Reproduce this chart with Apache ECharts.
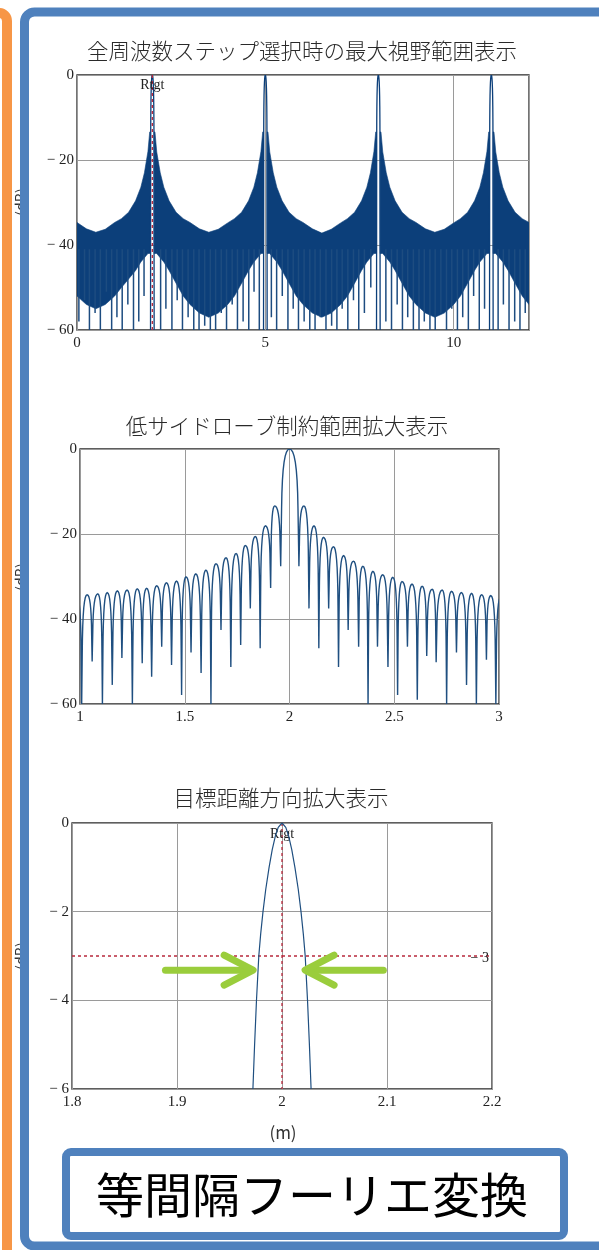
<!DOCTYPE html>
<html>
<head>
<meta charset="utf-8">
<script src="https://cdn.jsdelivr.net/npm/echarts@6/dist/echarts.min.js"></script>
<style>
  html, body { margin: 0; padding: 0; background: #ffffff; }
  #chart { width: 599px; height: 1250px; }
</style>
</head>
<body>
<div id="chart"></div>
<script>
// ---------- full range view (0-12 m) ----------
const fullMainLobeX = [2, 5, 8, 11];          // main-lobe (target / alias) positions, m
const fullMainLobeHalfWidth = 0.048;          // distance from main-lobe peak to its first null, m
const fullMainLobeNullDb = -60;
// upper edge (sidelobe peaks) and lower edge of the dense sidelobe region
const fullEnvX = [
  0, 0.25, 0.5, 0.75, 1.0, 1.18, 1.37, 1.555, 1.695, 1.79, 1.883, 1.93, 1.952,
  2.048, 2.07, 2.117, 2.21, 2.305, 2.445, 2.63, 2.82, 3.0, 3.25, 3.5, 3.75, 4.0, 4.18, 4.37, 4.555, 4.695, 4.79, 4.883, 4.93, 4.952,
  5.048, 5.07, 5.117, 5.21, 5.305, 5.445, 5.63, 5.82, 6.0, 6.25, 6.5, 6.75, 7.0, 7.18, 7.37, 7.555, 7.695, 7.79, 7.883, 7.93, 7.952,
  8.048, 8.07, 8.117, 8.21, 8.305, 8.445, 8.63, 8.82, 9.0, 9.25, 9.5, 9.75, 10.0, 10.18, 10.37, 10.555, 10.695, 10.79, 10.883, 10.93, 10.952,
  11.048, 11.07, 11.117, 11.21, 11.305, 11.445, 11.63, 11.82, 12.0
];
const fullEnvTop = [
  -34.7, -36.2, -37.0, -36.3, -34.7, -33.8, -32.3, -29.6, -26.4, -23.0, -18.0, -13.4, -13.4,
  -13.4, -13.4, -18.1, -23.0, -26.4, -29.6, -32.3, -33.8, -34.7, -36.2, -37.0, -36.3, -34.8, -33.8, -32.3, -29.6, -26.4, -23.0, -18.0, -13.4, -13.4,
  -13.4, -13.4, -18.1, -23.0, -26.4, -29.6, -32.3, -33.8, -34.7, -36.2, -37.2, -36.3, -34.8, -33.8, -32.3, -29.6, -26.4, -23.0, -18.0, -13.4, -13.4,
  -13.4, -13.4, -18.1, -23.0, -26.4, -29.6, -32.3, -33.8, -34.7, -36.2, -37.0, -36.3, -34.8, -33.8, -32.3, -29.6, -26.4, -23.0, -18.0, -13.4, -13.4,
  -13.4, -13.4, -18.1, -23.0, -26.4, -29.6, -32.3, -33.8, -34.7
];
const fullEnvFloor = [
  -52, -54, -55, -54, -52, -50, -48, -46, -44, -43, -42, -42, -42,
  -42, -42, -42, -43, -44, -46, -49, -52, -54, -56, -57, -56, -54, -52, -49, -46, -44, -43, -42, -42, -42,
  -42, -42, -42, -43, -44, -46, -49, -52, -54, -56, -57, -56, -54, -52, -49, -46, -44, -43, -42, -42, -42,
  -42, -42, -42, -43, -44, -46, -49, -52, -54, -56, -57, -56, -54, -52, -49, -46, -44, -43, -42, -42, -42,
  -42, -42, -42, -43, -44, -46, -49, -52, -54
];
// deep nulls reaching below the dense region
const fullNullX = [
  0.05, 0.2, 0.33, 0.48, 0.62, 0.78, 0.92, 1.06, 1.2, 1.35, 1.5, 1.64, 1.78,
  2.22, 2.36, 2.52, 2.66, 2.8, 2.95, 3.1, 3.24, 3.39, 3.54, 3.68, 3.83, 3.97, 4.12, 4.26, 4.41, 4.56, 4.7, 4.84,
  5.16, 5.3, 5.45, 5.6, 5.74, 5.88, 6.03, 6.18, 6.32, 6.46, 6.61, 6.76, 6.9, 7.04, 7.19, 7.34, 7.48, 7.63, 7.8,
  8.2, 8.35, 8.5, 8.64, 8.78, 8.93, 9.08, 9.22, 9.37, 9.51, 9.66, 9.81, 9.95, 10.1, 10.24, 10.39, 10.53, 10.68, 10.82,
  11.18, 11.32, 11.47, 11.62, 11.76, 11.9
];
const fullNullDb = [
  -58, -53, -60, -56, -60, -51, -60, -57, -60, -54, -60, -58, -52,
  -60, -55, -60, -53, -60, -57, -60, -60, -59, -60, -60, -56, -60, -54, -60, -58, -60, -51, -60,
  -57, -60, -52, -60, -55, -60, -58, -60, -60, -57, -60, -59, -60, -55, -60, -53, -60, -56, -50,
  -58, -60, -54, -60, -57, -60, -60, -58, -60, -60, -56, -60, -55, -60, -57, -60, -52, -60, -55,
  -60, -54, -60, -58, -60, -56
];

// ---------- low-sidelobe region (1-3 m) ----------
const zoomNullX = [
  0.962, 1.008, 1.058, 1.107, 1.154, 1.200, 1.250, 1.297, 1.342, 1.390, 1.437, 1.485, 1.530, 1.578, 1.625,
  1.673, 1.720, 1.767, 1.813, 1.860, 1.910, 1.958, 2.045, 2.093, 2.140, 2.187, 2.234, 2.280, 2.330, 2.375,
  2.420, 2.470, 2.516, 2.563, 2.610, 2.655, 2.700, 2.750, 2.797, 2.845, 2.892, 2.940, 2.985, 3.033
];
const zoomNullDb = [
  -48, -60, -50, -60, -55.5, -49.2, -60, -50.4, -53.6, -46.5, -50.8, -57.9, -47.9, -52.7, -60,
  -42.6, -51.3, -46.1, -37.5, -46.9, -32.7, -27.6, -27.6, -37.5, -46.9, -37.5, -51.3, -42.6, -46.5, -60,
  -46.5, -51.3, -57.9, -46.5, -59, -48.7, -50.2, -60, -47.9, -55.5, -60, -49.6, -60, -50
];
const zoomLobeX = [
  0.985, 1.034, 1.085, 1.130, 1.178, 1.225, 1.273, 1.318, 1.366, 1.413, 1.461, 1.506, 1.553, 1.601, 1.649,
  1.697, 1.745, 1.789, 1.837, 1.885, 1.929, 2.000, 2.069, 2.117, 2.162, 2.210, 2.258, 2.305, 2.350, 2.398,
  2.445, 2.493, 2.537, 2.585, 2.633, 2.681, 2.729, 2.773, 2.821, 2.869, 2.917, 2.961, 3.009
];
const zoomLobeDb = [
  -34.8, -34.3, -34.1, -33.8, -33.4, -33.2, -32.9, -32.8, -32.2, -31.5, -31.1, -30.1, -29.4, -28.5, -27.0,
  -25.6, -24.6, -22.7, -20.6, -18.1, -13.4, 0, -13.4, -18.1, -20.8, -23.0, -25.1, -26.4, -27.6, -28.8,
  -29.6, -30.2, -31.2, -31.8, -32.3, -33.0, -33.2, -33.5, -33.8, -34.0, -34.3, -34.5, -34.8
];

// ---------- range direction close-up (1.8-2.2 m) ----------
const targetX  = [1.9723, 1.9739, 1.9757, 1.9779, 1.9797, 1.9819, 1.9845, 1.9877, 1.9907, 1.9936, 1.9964, 2.0,
                  2.0036, 2.0064, 2.0093, 2.0123, 2.0155, 2.0181, 2.0203, 2.0221, 2.0243, 2.0261, 2.0277];
const targetDb = [-6, -5, -4, -3, -2.5, -2, -1.5, -1, -0.6, -0.3, -0.1, 0,
                  -0.1, -0.3, -0.6, -1, -1.5, -2, -2.5, -3, -4, -5, -6];
const targetRange = 2;        // Rtgt, m
const halfPowerDb = -3;
const arrowTailX = [1.889, 2.0965];
const arrowTipX  = [1.9725, 2.022];
const arrowDb = -3.32;

// ---------- text ----------
const titles = ['全周波数ステップ選択時の最大視野範囲表示', '低サイドローブ制約範囲拡大表示', '目標距離方向拡大表示'];
const unitX = '(m)';
const unitY = '(dB)';
const caption = '等間隔フーリエ変換';
const targetLabel = 'Rtgt';

// ---------- styles ----------
const SERIF = '"Liberation Serif", "Times New Roman", serif';
const JP = '"Noto Sans CJK JP", sans-serif';
const NAVY = '#0c3f7a';
const TRACE = '#1f4f80';
const MARK = '#b8283c';
const BLUE = '#4f81bd';
const ORANGE = '#f79646';
const GREEN = '#9acd3c';

function bezierPts(p0, p1, p2, p3, n, out) {
  for (let k = 1; k <= n; k++) {
    const t = k / n, u = 1 - t;
    out.push([
      u * u * u * p0[0] + 3 * u * u * t * p1[0] + 3 * u * t * t * p2[0] + t * t * t * p3[0],
      u * u * u * p0[1] + 3 * u * u * t * p1[1] + 3 * u * t * t * p2[1] + t * t * t * p3[1]
    ]);
  }
}
// one flank of a lobe: from the null pixel N up to the peak pixel P
function lobeSide(N, P, dbPx) {
  const dx = P[0] - N[0];
  const drop = Math.min(14 * dbPx, 0.6 * (N[1] - P[1]));
  const S = [N[0] + 0.1 * dx, P[1] + drop];
  const pts = [S];
  bezierPts(S, [N[0] + 0.16 * dx, P[1] + drop * 0.25], [N[0] + 0.5 * dx, P[1]], P, 8, pts);
  return pts;
}
// polyline through alternating nulls and lobe peaks
function lobeChain(api, nx, nd, lx, ld) {
  const dbPx = api.size([0, 1])[1];
  const pts = [];
  for (let i = 0; i < lx.length; i++) {
    const A = api.coord([nx[i], nd[i]]);
    const P = api.coord([lx[i], ld[i]]);
    const B = api.coord([nx[i + 1], nd[i + 1]]);
    if (i === 0) pts.push(A);
    pts.push(...lobeSide(A, P, dbPx));
    const right = lobeSide(B, P, dbPx).reverse();
    right.shift();
    pts.push(...right, B);
  }
  return pts;
}
function txt(x, y, text, font, fill, align, valign, extra) {
  return Object.assign({
    type: 'text', x: x, y: y,
    style: { text: text, font: font, fill: fill, align: align, textAlign: align,
             verticalAlign: valign, textVerticalAlign: valign }
  }, extra || {});
}

// dense sidelobe region of the full view
function renderFullBand(params, api) {
  const children = [];
  const runs = [];
  let run = [];
  for (let i = 0; i < fullEnvX.length; i++) {
    if (i > 0 && fullMainLobeX.some(p => p > fullEnvX[i - 1] && p < fullEnvX[i])) { runs.push(run); run = []; }
    run.push(i);
  }
  runs.push(run);
  runs.forEach(r => {
    const pts = r.map(i => api.coord([fullEnvX[i], fullEnvTop[i]]));
    for (let k = r.length - 1; k >= 0; k--) pts.push(api.coord([fullEnvX[r[k]], fullEnvFloor[r[k]]]));
    children.push({ type: 'polygon', shape: { points: pts }, style: { fill: NAVY, stroke: NAVY, lineWidth: 0.6 } });
  });
  fullNullX.forEach((x, i) => {
    const a = api.coord([x, -41]), b = api.coord([x, fullNullDb[i]]);
    children.push({ type: 'line', shape: { x1: a[0], y1: a[1], x2: b[0], y2: b[1] },
      style: { stroke: '#1d4c80', lineWidth: 1.5 } });
  });
  fullMainLobeX.forEach(p => {
    const pts = lobeChain(api, [p - fullMainLobeHalfWidth, p + fullMainLobeHalfWidth],
      [fullMainLobeNullDb, fullMainLobeNullDb], [p], [0]);
    children.push({ type: 'polyline', shape: { points: pts }, style: { stroke: NAVY, fill: null, lineWidth: 1.3 } });
  });
  return { type: 'group', children: children };
}
function renderZoomTrace(params, api) {
  const pts = lobeChain(api, zoomNullX, zoomNullDb, zoomLobeX, zoomLobeDb);
  return { type: 'polyline', shape: { points: pts }, style: { stroke: TRACE, fill: null, lineWidth: 1.4 } };
}
function dashed(a, b) {
  return { type: 'line', shape: { x1: a[0], y1: a[1], x2: b[0], y2: b[1] },
    style: { stroke: MARK, lineWidth: 1.3, lineDash: [3, 3] } };
}
function renderFullMarker(params, api) {
  const top = api.coord([targetRange, 0]), bot = api.coord([targetRange, -60]);
  return { type: 'group', children: [
    dashed(top, bot),
    txt(top[0], top[1] + 10, targetLabel, '14px ' + SERIF, '#222', 'center', 'middle')
  ] };
}
function renderTargetMarker(params, api) {
  const top = api.coord([targetRange, 0]), bot = api.coord([targetRange, -6]);
  const l = api.coord([1.8, halfPowerDb]), r = api.coord([2.2, halfPowerDb]);
  return { type: 'group', children: [
    dashed(top, bot), dashed(l, r),
    txt(top[0], top[1] + 11, targetLabel, '14px ' + SERIF, '#222', 'center', 'middle'),
    txt(r[0] - 3, r[1] + 2, '\u2212 ' + Math.abs(halfPowerDb), '14px ' + SERIF, '#222', 'right', 'middle')
  ] };
}
function renderArrows(params, api) {
  const children = [];
  arrowTailX.forEach((tx, i) => {
    const tail = api.coord([tx, arrowDb]), tip = api.coord([arrowTipX[i], arrowDb]);
    const dir = tip[0] > tail[0] ? 1 : -1;
    const st = { stroke: GREEN, lineWidth: 7, lineCap: 'round' };
    children.push({ type: 'line', shape: { x1: tail[0], y1: tail[1], x2: tip[0] - dir * 4, y2: tip[1] }, style: st });
    children.push({ type: 'polyline', shape: { points: [[tip[0] - dir * 29, tip[1] - 15], tip, [tip[0] - dir * 29, tip[1] + 15]] },
      style: Object.assign({ fill: null, lineJoin: 'round' }, st) });
  });
  return { type: 'group', children: children };
}

const yFmt = v => (v < 0 ? '\u2212 ' + Math.abs(v) : String(v));
const labelStyle = { fontFamily: SERIF, fontSize: 15, color: '#222' };
function xAxis(i, min, max, interval, showMax) {
  return { type: 'value', gridIndex: i, min: min, max: max, interval: interval,
    axisLine: { show: false }, axisTick: { show: false },
    splitLine: { show: true, lineStyle: { color: '#9a9a9a', width: 1 } },
    axisLabel: Object.assign({ margin: 6, showMaxLabel: showMax, showMinLabel: true }, labelStyle) };
}
function yAxis(i, min, max, interval) {
  return { type: 'value', gridIndex: i, min: min, max: max, interval: interval,
    axisLine: { show: false }, axisTick: { show: false },
    splitLine: { show: true, lineStyle: { color: '#9a9a9a', width: 1 } },
    axisLabel: Object.assign({ margin: 3, formatter: yFmt, showMaxLabel: true, showMinLabel: true }, labelStyle) };
}
const gridBase = { show: true, borderColor: '#2a2a2a', borderWidth: 1.3, backgroundColor: 'transparent', containLabel: false };
const titleFont = '300 21.5px ' + JP;

const option = {
  animation: false,
  backgroundColor: '#ffffff',
  grid: [
    Object.assign({ left: 77, top: 75, width: 452, height: 255 }, gridBase),
    Object.assign({ left: 80, top: 449, width: 419, height: 255 }, gridBase),
    Object.assign({ left: 72, top: 823, width: 420, height: 266 }, gridBase)
  ],
  xAxis: [xAxis(0, 0, 12, 5, false), xAxis(1, 1, 3, 0.5, true), xAxis(2, 1.8, 2.2, 0.1, true)],
  yAxis: [yAxis(0, -60, 0, 20), yAxis(1, -60, 0, 20), yAxis(2, -6, 0, 2)],
  series: [
    { type: 'custom', xAxisIndex: 0, yAxisIndex: 0, clip: true, silent: true, data: [[0, 0]], renderItem: renderFullBand },
    { type: 'custom', xAxisIndex: 0, yAxisIndex: 0, clip: true, silent: true, data: [[0, 0]], renderItem: renderFullMarker, z: 3 },
    { type: 'custom', xAxisIndex: 1, yAxisIndex: 1, clip: true, silent: true, data: [[1, 0]], renderItem: renderZoomTrace },
    { type: 'line', xAxisIndex: 2, yAxisIndex: 2, silent: true, showSymbol: false, smooth: false,
      data: targetX.map((x, i) => [x, targetDb[i]]), lineStyle: { color: TRACE, width: 1.2 } },
    { type: 'custom', xAxisIndex: 2, yAxisIndex: 2, clip: true, silent: true, data: [[2, 0]], renderItem: renderTargetMarker, z: 3 },
    { type: 'custom', xAxisIndex: 2, yAxisIndex: 2, clip: false, silent: true, data: [[2, 0]], renderItem: renderArrows, z: 4 }
  ],
  graphic: [
    txt(302, 51, titles[0], titleFont, '#2a2a2a', 'center', 'middle'),
    txt(287, 426, titles[1], titleFont, '#2a2a2a', 'center', 'middle'),
    txt(281, 798, titles[2], titleFont, '#2a2a2a', 'center', 'middle'),
    txt(283, 1133, unitX, '17px ' + JP, '#333', 'center', 'middle'),
    txt(21, 202, unitY, '14px ' + JP, '#333', 'center', 'middle', { rotation: Math.PI / 2, z: 50 }),
    txt(21, 577, unitY, '14px ' + JP, '#333', 'center', 'middle', { rotation: Math.PI / 2, z: 50 }),
    txt(21, 956, unitY, '14px ' + JP, '#333', 'center', 'middle', { rotation: Math.PI / 2, z: 50 }),
    { type: 'rect', z: 100, shape: { x: -40, y: 13, width: 47, height: 1300, r: 8 },
      style: { fill: 'none', stroke: ORANGE, lineWidth: 10 } },
    { type: 'rect', z: 100, shape: { x: 24.5, y: 12, width: 700, height: 1234, r: 10 },
      style: { fill: 'none', stroke: BLUE, lineWidth: 9 } },
    { type: 'rect', z: 100, shape: { x: 66, y: 1152, width: 498, height: 84, r: 5 },
      style: { fill: '#ffffff', stroke: BLUE, lineWidth: 8 } },
    txt(312, 1195, caption, '48px ' + JP, '#000', 'center', 'middle', { z: 101 })
  ]
};

const chart = echarts.init(document.getElementById('chart'), null, { renderer: 'canvas' });
chart.setOption(option);
</script>
</body>
</html>
